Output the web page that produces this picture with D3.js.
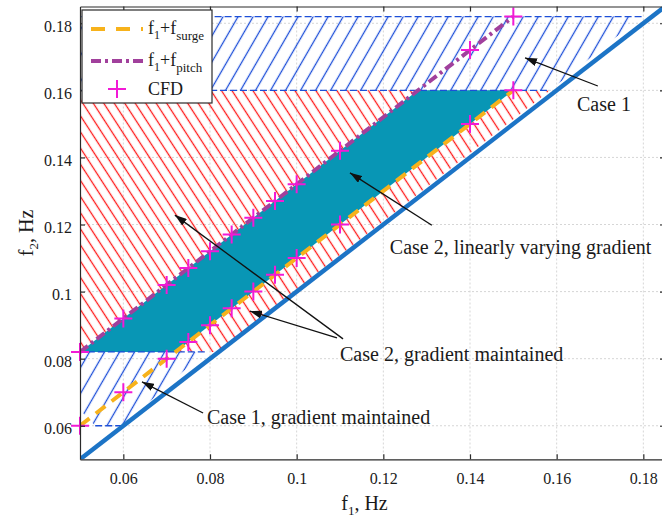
<!DOCTYPE html>
<html>
<head>
<meta charset="utf-8">
<script src="https://cdn.jsdelivr.net/npm/d3@7"></script>
<style>
  body { margin: 0; background: #fff; }
  svg { display: block; }
  text { font-family: "Liberation Serif", "Times New Roman", serif; fill: #1a1a1a; }
</style>
</head>
<body>
<svg id="chart" width="662" height="522"></svg>
<script>
// ---- axis ticks ----
const f1Ticks = [0.06, 0.08, 0.1, 0.12, 0.14, 0.16, 0.18];
const f1TickLabels = ["0.06", "0.08", "0.1", "0.12", "0.14", "0.16", "0.18"];
const f2Ticks = [0.06, 0.08, 0.1, 0.12, 0.14, 0.16, 0.18];
const f2TickLabels = ["0.06", "0.08", "0.1", "0.12", "0.14", "0.16", "0.18"];

// ---- CFD cases (f1 and resulting f2 for each combination) ----
const cfdF1      = [0.05, 0.06, 0.07, 0.075, 0.08, 0.085, 0.09, 0.095, 0.1, 0.11, 0.14, 0.15];
const cfdSurgeF2 = [0.06, 0.07, 0.08, 0.085, 0.09, 0.095, 0.1, 0.105, 0.11, 0.12, 0.15, 0.16];
const cfdPitchF2 = [0.082, 0.092, 0.102, 0.107, 0.112, 0.117, 0.122, 0.127, 0.132, 0.142, 0.172, 0.182];

// ---- reference lines ----
const surgeLineF1 = [0.05, 0.15];
const surgeLineF2 = [0.06, 0.16];
const pitchLineF1 = [0.05, 0.15];
const pitchLineF2 = [0.082, 0.182];
const diagonalF   = [0.05, 0.185];   // f2 = f1

// ---- regions (vertex lists) ----
const case1UpperF1 = [0.05, 0.1585, 0.1796, 0.05];
const case1UpperF2 = [0.16, 0.16, 0.182, 0.182];
const case1LowerF1 = [0.05, 0.0535, 0.0599, 0.0788, 0.05];
const case1LowerF2 = [0.0647, 0.06, 0.06, 0.082, 0.082];
const case2HatchF1 = [0.05, 0.0815, 0.1585, 0.05];
const case2HatchF2 = [0.082, 0.082, 0.16, 0.16];
const case2BandF1  = [0.05, 0.072, 0.15, 0.128];
const case2BandF2  = [0.082, 0.082, 0.16, 0.16];

// ---- layout ----
const FONT = '"Liberation Serif", "Times New Roman", serif';
const svg = d3.select("#chart");
const mLeft = 80, mRight = 665, mTop = 6.5, mBottom = 459.3;
const x = d3.scaleLinear().domain([0.05, 0.185]).range([mLeft, mRight]);
const y = d3.scaleLinear().domain([0.05, 0.185]).range([mBottom, mTop]);

const C = {
  teal: "#0896b5",
  diag: "#1c74c6",
  hatchBlue: "#1d4fd8",
  hatchRed: "#ff1a1a",
  surge: "#f7b21b",
  pitch: "#a1409c",
  cfd: "#f21ad6",
  axis: "#2a2a2a",
  grid: "#d6d6d6"
};

const defs = svg.append("defs");
defs.append("clipPath").attr("id", "plotClip")
  .append("rect").attr("x", mLeft).attr("y", mTop)
  .attr("width", mRight - mLeft).attr("height", mBottom - mTop);

function hatch(id, color, spacing, angle) {
  const p = defs.append("pattern")
    .attr("id", id)
    .attr("patternUnits", "userSpaceOnUse")
    .attr("width", spacing).attr("height", 40)
    .attr("patternTransform", `rotate(${angle})`);
  p.append("line")
    .attr("x1", spacing / 2).attr("x2", spacing / 2)
    .attr("y1", -5).attr("y2", 45)
    .attr("stroke", color).attr("stroke-width", 1.3);
}
hatch("hatchBlue", C.hatchBlue, 13, 30);
hatch("hatchRed", C.hatchRed, 8.8, -33);

const zipPts = (a, b) => a.map((v, i) => [x(v), y(b[i])]);
const polyLine = d3.line();

// ---- grid ----
const grid = svg.append("g");
grid.selectAll("line.gx").data(f1Ticks).join("line")
  .attr("x1", d => x(d)).attr("x2", d => x(d))
  .attr("y1", mTop).attr("y2", mBottom)
  .attr("stroke", C.grid).attr("stroke-dasharray", "2,2");
grid.selectAll("line.gy").data(f2Ticks).join("line")
  .attr("y1", d => y(d)).attr("y2", d => y(d))
  .attr("x1", mLeft).attr("x2", mRight)
  .attr("stroke", C.grid).attr("stroke-dasharray", "2,2");

const plot = svg.append("g").attr("clip-path", "url(#plotClip)");

// ---- Case 2, gradient maintained (red hatch) ----
plot.append("path")
  .attr("d", polyLine(zipPts(case2HatchF1, case2HatchF2)) + "Z")
  .attr("fill", "url(#hatchRed)");

// ---- Case 2, linearly varying gradient (filled band) ----
plot.append("path")
  .attr("d", polyLine(zipPts(case2BandF1, case2BandF2)) + "Z")
  .attr("fill", C.teal);

// ---- Case 1 regions (blue hatch, dashed horizontal edges) ----
[[case1UpperF1, case1UpperF2], [case1LowerF1, case1LowerF2]].forEach(([a, b]) => {
  plot.append("path")
    .attr("d", polyLine(zipPts(a, b)) + "Z")
    .attr("fill", "url(#hatchBlue)");
  a.forEach((v, i) => {
    const j = (i + 1) % a.length;
    if (b[i] === b[j]) {
      plot.append("line")
        .attr("x1", x(v)).attr("x2", x(a[j]))
        .attr("y1", y(b[i])).attr("y2", y(b[j]))
        .attr("stroke", C.hatchBlue).attr("stroke-width", 1.3)
        .attr("stroke-dasharray", "7,3");
    }
  });
});

// ---- f2 = f1 ----
plot.append("path")
  .attr("d", polyLine(zipPts(diagonalF, diagonalF)))
  .attr("stroke", C.diag).attr("stroke-width", 4.5).attr("fill", "none");

// ---- f1 + f_surge ----
plot.append("path")
  .attr("d", polyLine(zipPts(surgeLineF1, surgeLineF2)))
  .attr("stroke", C.surge).attr("stroke-width", 4)
  .attr("stroke-dasharray", "12,8").attr("fill", "none");

// ---- f1 + f_pitch ----
plot.append("path")
  .attr("d", polyLine(zipPts(pitchLineF1, pitchLineF2)))
  .attr("stroke", C.pitch).attr("stroke-width", 4)
  .attr("stroke-dasharray", "10,4,3,4").attr("fill", "none");

// ---- CFD markers ----
function plus(g, cx, cy, r) {
  g.append("path")
    .attr("d", `M${cx - r},${cy}H${cx + r}M${cx},${cy - r}V${cy + r}`)
    .attr("stroke", C.cfd).attr("stroke-width", 2).attr("fill", "none");
}
const markers = svg.append("g");
cfdF1.forEach((f, i) => {
  plus(markers, x(f), y(cfdSurgeF2[i]), 9);
  plus(markers, x(f), y(cfdPitchF2[i]), 9);
});

// ---- axes ----
const axisG = svg.append("g");
const xAxis = d3.axisBottom(x).tickValues(f1Ticks)
  .tickFormat((d, i) => f1TickLabels[i]).tickSizeInner(-5).tickSizeOuter(0).tickPadding(13);
const yAxis = d3.axisLeft(y).tickValues(f2Ticks)
  .tickFormat((d, i) => f2TickLabels[i]).tickSizeInner(-5).tickSizeOuter(0).tickPadding(8);
const gx = axisG.append("g").attr("transform", `translate(0,${mBottom})`).call(xAxis);
const gy = axisG.append("g").attr("transform", `translate(${mLeft},0)`).call(yAxis);
const gxt = axisG.append("g").attr("transform", `translate(0,${mTop})`)
  .call(d3.axisTop(x).tickValues(f1Ticks).tickFormat("").tickSizeInner(-5).tickSizeOuter(0));
const gyr = axisG.append("g").attr("transform", `translate(${mRight},0)`)
  .call(d3.axisRight(y).tickValues(f2Ticks).tickFormat("").tickSizeInner(-5).tickSizeOuter(0));
[gx, gy, gxt, gyr].forEach(g => {
  g.attr("font-family", null).style("font-family", FONT);
  g.select(".domain").attr("stroke", C.axis).attr("stroke-width", 1.2);
  g.selectAll(".tick line").attr("stroke", C.axis).attr("stroke-width", 1.2);
  g.selectAll(".tick text")
    .style("font-family", FONT)
    .style("font-size", "16px").attr("fill", "#1a1a1a");
});
gy.selectAll(".tick text").attr("dy", "0.5em");

// ---- axis titles ----
const xt = svg.append("text")
  .attr("x", (mLeft + mRight) / 2 - 8).attr("y", 510)
  .attr("text-anchor", "middle").attr("font-size", 20);
xt.append("tspan").text("f");
xt.append("tspan").attr("font-size", 13).attr("dy", 5).text("1");
xt.append("tspan").attr("dy", -5).text(", Hz");

const yt = svg.append("text")
  .attr("transform", `translate(33,${(mTop + mBottom) / 2}) rotate(-90)`)
  .attr("text-anchor", "middle").attr("font-size", 20);
yt.append("tspan").text("f");
yt.append("tspan").attr("font-size", 13).attr("dy", 5).text("2");
yt.append("tspan").attr("dy", -5).text(", Hz");

// ---- annotations ----
defs.append("marker").attr("id", "arrowHead")
  .attr("viewBox", "0 0 12 8").attr("refX", 12).attr("refY", 4)
  .attr("markerWidth", 12).attr("markerHeight", 8)
  .attr("markerUnits", "userSpaceOnUse").attr("orient", "auto")
  .append("path").attr("d", "M0,0L12,4L0,8Z").attr("fill", "#111");

const notes = [
  { text: "Case 1", tx: 0.1647, ty: 0.1538,
    arrows: [[0.1695, 0.1613, 0.1527, 0.1697]] },
  { text: "Case 2, linearly varying gradient", tx: 0.1215, ty: 0.1112,
    arrows: [[0.1312, 0.1198, 0.1123, 0.1354]] },
  { text: "Case 2, gradient maintained", tx: 0.11, ty: 0.0793,
    arrows: [[0.1107, 0.0859, 0.0719, 0.1228], [0.1093, 0.0862, 0.0892, 0.0942]] },
  { text: "Case 1, gradient maintained", tx: 0.0793, ty: 0.0605,
    arrows: [[0.0784, 0.0638, 0.0643, 0.0731]] }
];
const ann = svg.append("g");
notes.forEach(n => {
  n.arrows.forEach(a => {
    ann.append("line")
      .attr("x1", x(a[0])).attr("y1", y(a[1]))
      .attr("x2", x(a[2])).attr("y2", y(a[3]))
      .attr("stroke", "#111").attr("stroke-width", 1.3)
      .attr("marker-end", "url(#arrowHead)");
  });
  ann.append("text").attr("x", x(n.tx)).attr("y", y(n.ty))
    .attr("font-size", 20).text(n.text);
});

// ---- legend ----
const lg = svg.append("g");
lg.append("rect").attr("x", 82).attr("y", 10).attr("width", 130).attr("height", 93)
  .attr("fill", "#fff").attr("stroke", C.axis).attr("stroke-width", 1.2);
lg.append("line").attr("x1", 91).attr("x2", 143).attr("y1", 29).attr("y2", 29)
  .attr("stroke", C.surge).attr("stroke-width", 4).attr("stroke-dasharray", "14,11");
lg.append("line").attr("x1", 91).attr("x2", 143).attr("y1", 61).attr("y2", 61)
  .attr("stroke", C.pitch).attr("stroke-width", 4).attr("stroke-dasharray", "10,4,3,4");
plus(lg, 117, 89, 9);

function legendLabel(yy, sub) {
  const t = lg.append("text").attr("x", 148).attr("y", yy).attr("font-size", 18);
  t.append("tspan").text("f");
  t.append("tspan").attr("font-size", 12).attr("dy", 5).text("1");
  t.append("tspan").attr("dy", -5).text("+f");
  t.append("tspan").attr("font-size", 13).attr("dy", 6).text(sub);
}
legendLabel(34, "surge");
legendLabel(66, "pitch");
lg.append("text").attr("x", 148).attr("y", 95).attr("font-size", 18).text("CFD");
</script>
</body>
</html>
